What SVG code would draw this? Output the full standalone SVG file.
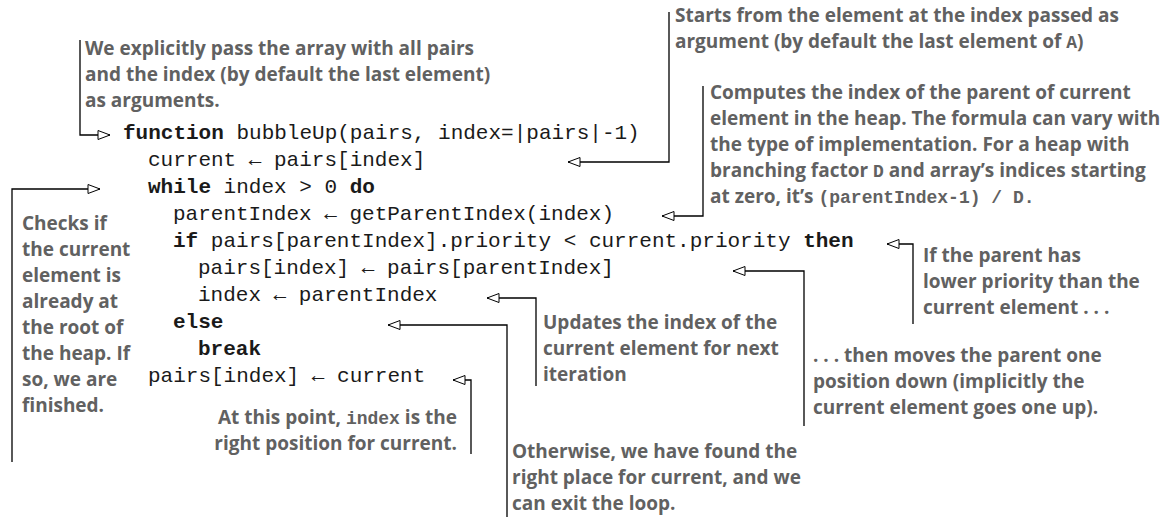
<svg xmlns="http://www.w3.org/2000/svg" width="1169" height="518" viewBox="0 0 1169 518">
  <style>
    .code { font-family: "Liberation Mono", "Courier New", monospace; font-size: 21px; fill: #1a1a1a; }
    .kw { font-weight: bold; }
    .note { font-family: "Open Sans", "Liberation Sans", sans-serif; font-weight: 700; font-size: 19px; fill: #616161; }
    .m { font-family: "Liberation Mono", "Courier New", monospace; font-weight: bold; font-size: 18px; }
    .wire { fill: none; stroke: #000; stroke-width: 1.3; marker-end: url(#tri); }
  </style>
  <defs>
    <!-- open triangular arrowhead used by every callout line -->
    <marker id="tri" viewBox="-1 -1 14 11" refX="12" refY="4.5" markerWidth="14" markerHeight="11" markerUnits="userSpaceOnUse" orient="auto">
      <path d="M0,0 L12,4.5 L0,9 Z" fill="#fff" stroke="#000" stroke-width="1"/>
    </marker>
  </defs>

  <rect width="1169" height="518" fill="#fff"/>

  <!-- pseudocode listing -->
  <g id="code" class="code">
    <text x="123" y="139"><tspan class="kw">function</tspan> bubbleUp(pairs, index=|pairs|-1)</text>
    <text x="148" y="166">current ← pairs[index]</text>
    <text x="148" y="193"><tspan class="kw">while</tspan> index &gt; 0 <tspan class="kw">do</tspan></text>
    <text x="173" y="220">parentIndex ← getParentIndex(index)</text>
    <text x="173" y="247"><tspan class="kw">if</tspan> pairs[parentIndex].priority &lt; current.priority <tspan class="kw">then</tspan></text>
    <text x="198" y="274">pairs[index] ← pairs[parentIndex]</text>
    <text x="198" y="301">index ← parentIndex</text>
    <text x="173" y="328"><tspan class="kw">else</tspan></text>
    <text x="198" y="355"><tspan class="kw">break</tspan></text>
    <text x="148" y="382">pairs[index] ← current</text>
  </g>

  <!-- callout connectors -->
  <g id="connectors">
    <path class="wire" d="M80,40 V135 H110"/>
    <path class="wire" d="M669,12 V162 H568"/>
    <path class="wire" d="M703,86 V216 H662"/>
    <path class="wire" d="M12,462 V189 H100"/>
    <path class="wire" d="M913,324 V244 H887"/>
    <path class="wire" d="M804,426 V271 H733"/>
    <path class="wire" d="M536,386 V298 H487"/>
    <path class="wire" d="M507,517 V325 H388"/>
    <path class="wire" d="M471,454 V380 H453"/>
  </g>

  <!-- callouts -->
  <g id="note-args" class="note">
    <text x="85" y="55">We explicitly pass the array with all pairs</text>
    <text x="85" y="81">and the index (by default the last element)</text>
    <text x="85" y="107">as arguments.</text>
  </g>
  <g id="note-start" class="note">
    <text x="675" y="22">Starts from the element at the index passed as</text>
    <text x="675" y="48">argument (by default the last element of <tspan class="m">A</tspan>)</text>
  </g>
  <g id="note-parent" class="note">
    <text x="710" y="99">Computes the index of the parent of current</text>
    <text x="710" y="125">element in the heap. The formula can vary with</text>
    <text x="710" y="151">the type of implementation. For a heap with</text>
    <text x="710" y="177">branching factor <tspan class="m">D</tspan> and array’s indices starting</text>
    <text x="710" y="203">at zero, it’s <tspan class="m">(parentIndex-1) / D.</tspan></text>
  </g>
  <g id="note-root" class="note">
    <text x="22" y="230">Checks if</text>
    <text x="22" y="256">the current</text>
    <text x="22" y="282">element is</text>
    <text x="22" y="308">already at</text>
    <text x="22" y="334">the root of</text>
    <text x="22" y="360">the heap. If</text>
    <text x="22" y="386">so, we are</text>
    <text x="22" y="412">finished.</text>
  </g>
  <g id="note-lower" class="note">
    <text x="923" y="262">If the parent has</text>
    <text x="923" y="288">lower priority than the</text>
    <text x="923" y="314">current element . . .</text>
  </g>
  <g id="note-move" class="note">
    <text x="813" y="362">. . . then moves the parent one</text>
    <text x="813" y="388">position down (implicitly the</text>
    <text x="813" y="414">current element goes one up).</text>
  </g>
  <g id="note-update" class="note">
    <text x="543" y="329">Updates the index of the</text>
    <text x="543" y="355">current element for next</text>
    <text x="543" y="381">iteration</text>
  </g>
  <g id="note-final" class="note" text-anchor="end">
    <text x="457" y="424">At this point, <tspan class="m">index</tspan> is the</text>
    <text x="457" y="450">right position for current.</text>
  </g>
  <g id="note-else" class="note">
    <text x="512" y="458">Otherwise, we have found the</text>
    <text x="512" y="484">right place for current, and we</text>
    <text x="512" y="510">can exit the loop.</text>
  </g>
</svg>
